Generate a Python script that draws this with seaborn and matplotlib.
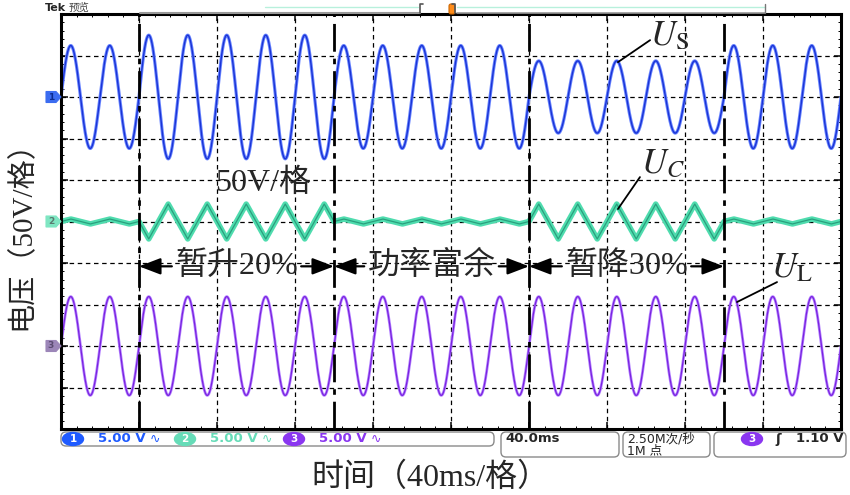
import numpy as np
import pandas as pd
import matplotlib
matplotlib.use("Agg")
import matplotlib.pyplot as plt
import seaborn as sns
from matplotlib.patches import FancyBboxPatch, Ellipse, Polygon
from matplotlib.lines import Line2D
from matplotlib.transforms import IdentityTransform

# ---------------- values read from the scope capture ----------------
segment_edges_ms = [0, 40, 140, 240, 340, 400]
segment_names = ["正常", "暂升20%", "功率富余", "暂降30%", "正常"]
us_amp_div = [1.24, 1.49, 1.24, 0.87, 1.24]      # source voltage U_S (div)
uc_amp_div = [0.06, -0.42, 0.06, 0.42, 0.06]     # compensation voltage U_C (div, sign = phase)
ul_amp_div = [1.19, 1.19, 1.19, 1.19, 1.19]      # load voltage U_L (div)
channel_names = ["1", "2", "3"]
channel_offsets_div = [3.0, 0.0, -3.0]
channel_scales = ["5.00 V", "5.00 V", "5.00 V"]
line_freq_hz = 50
time_per_div = "40.0ms"
sample_rate = "2.50M次/秒"
record_len = "1M 点"
trigger_level = "1.10 V"

W, H = 850, 495
sns.set_style("white")
plt.rcParams["font.family"] = ["Liberation Serif", "Noto Sans CJK SC", "DejaVu Sans"]
plt.rcParams["mathtext.fontset"] = "stix"

fig = plt.figure(figsize=(W / 100, H / 100), dpi=100)
ax = fig.add_axes([61 / W, 1 - 429 / H, 780 / W, 415 / H])

# ---------------- waveforms ----------------
t = np.linspace(segment_edges_ms[0], segment_edges_ms[-1], 8001)
seg = np.clip(np.searchsorted(segment_edges_ms, t, side="right") - 1, 0, len(segment_names) - 1)
w = 2 * np.pi * line_freq_hz * t / 1000.0
df = pd.DataFrame({
    "t": t,
    "U_S": channel_offsets_div[0] + np.take(us_amp_div, seg) * np.sin(w),
    "U_C": channel_offsets_div[1] + np.take(uc_amp_div, seg) * (2 / np.pi) * np.arcsin(np.sin(w)),
    "U_L": channel_offsets_div[2] + np.take(ul_amp_div, seg) * np.sin(w),
})

styles = {
    "U_S": [("#6a86ff", 2.3), ("#1a34d6", 1.0)],
    "U_C": [("#4fdcae", 4.0), ("#2a9f7d", 0.9)],
    "U_L": [("#b584ff", 2.0), ("#7a22e0", 0.9)],
}
for col, layers in styles.items():
    for color, lw in layers:
        sns.lineplot(data=df, x="t", y=col, ax=ax, color=color, lw=lw,
                     estimator=None, sort=False, legend=False)

ax.set_xlim(segment_edges_ms[0], segment_edges_ms[-1])
ax.set_ylim(-5, 5)
ax.set_xlabel("")
ax.set_ylabel("")
ax.set_xticks(np.arange(0, 401, 40))
ax.set_xticks(np.arange(0, 401, 8), minor=True)
ax.set_yticks(np.arange(-5, 6, 1))
ax.set_yticks(np.arange(-5, 5.01, 0.2), minor=True)
ax.tick_params(which="both", direction="in", top=True, right=True, bottom=True, left=True,
               labelbottom=False, labelleft=False, color="k")
ax.tick_params(which="major", length=5, width=1.1)
ax.tick_params(which="minor", length=2.5, width=0.7)
ax.grid(True, which="major", color="k", lw=0.9, ls=(0, (3.6, 2.9)))
for s in ax.spines.values():
    s.set_linewidth(2.2)
    s.set_color("k")

# segment boundaries
for e in segment_edges_ms[1:-1]:
    ax.axvline(e, color="k", lw=2.0, ls=(0, (10, 2.5, 2, 2.5)), zorder=3)

# segment labels with arrows
arrow_y = -1.08
ap = dict(arrowstyle="-|>,head_length=1.1,head_width=0.42", color="k", lw=1.6,
          shrinkA=0, shrinkB=0, mutation_scale=12)
for i in range(1, 4):
    left, right = segment_edges_ms[i], segment_edges_ms[i + 1]
    xc = (left + right) / 2
    ax.annotate(segment_names[i], xy=(left, arrow_y), xytext=(xc, arrow_y),
                ha="center", va="center", fontsize=23, arrowprops=ap, zorder=5)
    ax.annotate(segment_names[i], xy=(right, arrow_y), xytext=(xc, arrow_y),
                ha="center", va="center", fontsize=23, color="none", arrowprops=ap, zorder=5)

ax.text(103.6, 0.93, "50V/格", ha="center", va="center", fontsize=23, zorder=5)

# trace labels with leader lines
labels = [
    (r"$U_{\mathrm{S}}$", (302.0, 4.25), (285.6, 3.84), (302.1, 4.37)),
    (r"$U_{C}$", (297.5, 1.17), (285.6, 0.30), (296.9, 1.07)),
    (r"$U_{\mathrm{L}}$", (364.0, -1.34), (346.7, -1.94), (367.2, -1.46)),
]
for txt, pos, p0, p1 in labels:
    ax.text(pos[0], pos[1], txt, ha="left", va="baseline", fontsize=25, zorder=5)
    ax.plot([p0[0], p1[0]], [p0[1], p1[1]], color="k", lw=1.3, zorder=5)

# ---------------- axis titles ----------------
fig.text(22 / W, 1 - 228 / H, "电压（50V/格）", rotation=90, ha="center", va="center", fontsize=21)
fig.text(430 / W, 1 - 478 / H, "时间（40ms/格）", ha="center", va="center", fontsize=23)

# ---------------- scope UI decorations (pixel coords) ----------------
I = IdentityTransform()
def P(x, y):
    return (x, H - y)

ui_font = ["DejaVu Sans", "Noto Sans CJK SC"]
fig.text(45 / W, 1 - 8 / H, "Tek", fontsize=8, fontweight="bold", family=ui_font, va="center")
fig.text(69 / W, 1 - 8 / H, "预览", fontsize=7.5, color="#444444", family=ui_font, va="center")

fig.add_artist(Line2D([140, 420], [H - 12.5, H - 12.5], transform=I, color="#999999", lw=1.5))
fig.add_artist(Line2D([265, 418], [H - 7, H - 7], transform=I, color="#b8f0dc", lw=1.0))
fig.add_artist(Line2D([457, 765], [H - 7, H - 7], transform=I, color="#b8f0dc", lw=1.0))
fig.add_artist(Line2D([457, 765], [H - 12.5, H - 12.5], transform=I, color="#999999", lw=1.2))
fig.add_artist(Line2D([420, 420, 423], [H - 13, H - 4, H - 4], transform=I, color="#555555", lw=1.2))
fig.add_artist(Line2D([452, 455, 455], [H - 4, H - 4, H - 13], transform=I, color="#555555", lw=1.2))
fig.add_artist(Line2D([765, 765], [H - 4, H - 13], transform=I, color="#777777", lw=1.0))
fig.add_artist(FancyBboxPatch((449, H - 14), 6, 10, boxstyle="round,pad=0,rounding_size=2",
                              transform=I, facecolor="#ff8c1a", edgecolor="#cc6600", lw=0.8))

# channel ground markers on left edge
tag_colors = ["#3b6cf0", "#7fe6c2", "#9c86b8"]
tag_text = ["#0a2a90", "#5a7a70", "#5a4a70"]
for name, off, fc, tc in zip(channel_names, channel_offsets_div, tag_colors, tag_text):
    yp = 221.5 - off * 41.5
    poly = Polygon([P(46, yp - 5.5), P(56, yp - 5.5), P(61, yp), P(56, yp + 5.5), P(46, yp + 5.5)],
                   closed=True, transform=I, facecolor=fc, edgecolor=fc, lw=0.8)
    fig.add_artist(poly)
    fig.text(51 / W, 1 - yp / H, name, fontsize=6.5, color=tc, ha="center", va="center",
             family=ui_font, fontweight="bold")

# bottom status bar boxes
boxes = [(61, 432, 494, 446), (501, 432, 619, 457), (623, 432, 710, 457), (714, 432, 846, 457)]
for x0, y0, x1, y1 in boxes:
    fig.add_artist(FancyBboxPatch((x0, H - y1), x1 - x0, y1 - y0,
                                  boxstyle="round,pad=0,rounding_size=5", transform=I,
                                  facecolor="white", edgecolor="#8a8a8a", lw=1.0))

ch_colors = ["#1f5bff", "#66dcb8", "#8a36f0"]
badge_x = [73, 185, 294]
for name, sc, col, bx in zip(channel_names, channel_scales, ch_colors, badge_x):
    fig.add_artist(Ellipse(P(bx, 439), 21, 13, transform=I, facecolor=col, edgecolor=col))
    fig.text(bx / W, 1 - 439 / H, name, color="white", fontsize=7.5, fontweight="bold",
             ha="center", va="center", family=ui_font)
    fig.text((bx + 25) / W, 1 - 439 / H, sc, color=col, fontsize=9.5, fontweight="bold",
             ha="left", va="center", family=ui_font)
    fig.text((bx + 77) / W, 1 - 439 / H, "∿", color=col, fontsize=9,
             ha="left", va="center", family=ui_font)

fig.text(505 / W, 1 - 439 / H, time_per_div, fontsize=9.5, fontweight="bold",
         ha="left", va="center", family=ui_font)
fig.text(627 / W, 1 - 439 / H, sample_rate, fontsize=9, ha="left", va="center", family=ui_font)
fig.text(627 / W, 1 - 451 / H, record_len, fontsize=9, ha="left", va="center", family=ui_font)
fig.add_artist(Ellipse(P(752, 439), 21, 13, transform=I, facecolor=ch_colors[2], edgecolor=ch_colors[2]))
fig.text(752 / W, 1 - 439 / H, channel_names[2], color="white", fontsize=7.5, fontweight="bold",
         ha="center", va="center", family=ui_font)
fig.text(775 / W, 1 - 439 / H, "ʃ", fontsize=9.5, fontweight="bold", ha="left", va="center",
         family=ui_font)
fig.text(843 / W, 1 - 439 / H, trigger_level, fontsize=9.5, fontweight="bold",
         ha="right", va="center", family=ui_font)

fig.savefig("out.png", dpi=100, facecolor="white")
